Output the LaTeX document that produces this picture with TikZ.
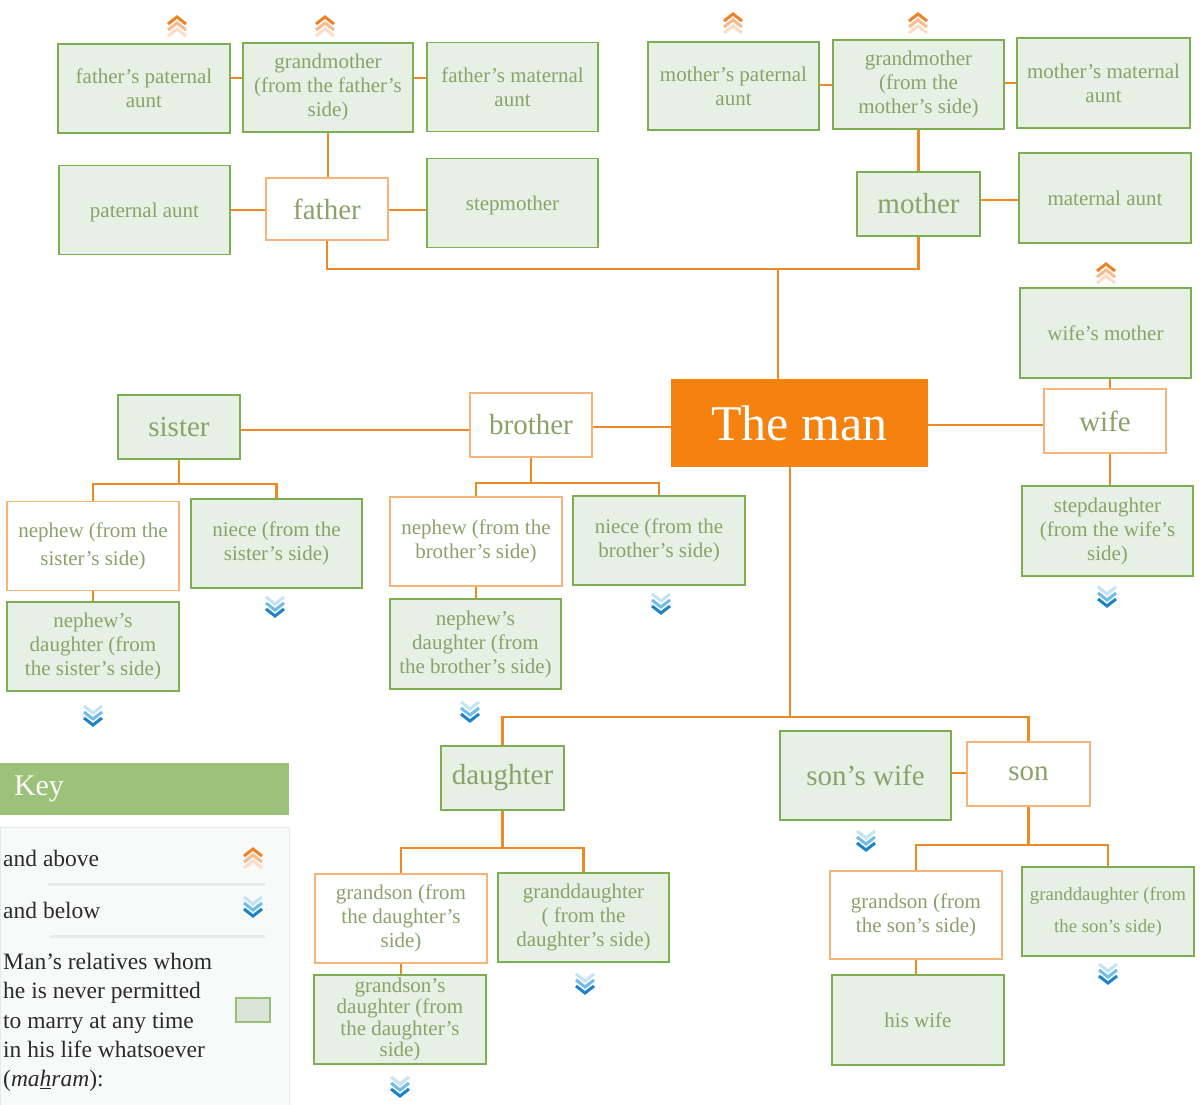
\documentclass[tikz,border=0pt]{standalone}
\usepackage{fontspec}
\setmainfont{Liberation Serif}
\usetikzlibrary{calc}
\definecolor{gfill}{HTML}{E7F0E4}
\definecolor{gline}{HTML}{7DAF52}
\definecolor{gtext}{HTML}{8AA26A}
\definecolor{oline}{HTML}{F5B478}
\definecolor{conn}{HTML}{EE8A26}
\definecolor{manfill}{HTML}{F5820F}
\definecolor{chOa}{HTML}{EE8226}
\definecolor{chOb}{HTML}{F6BC90}
\definecolor{chOc}{HTML}{FBDDC6}
\definecolor{chBa}{HTML}{1C84C6}
\definecolor{chBb}{HTML}{72BDE8}
\definecolor{chBc}{HTML}{C4E4F6}
\definecolor{keygreen}{HTML}{9CC27A}
\definecolor{panelfill}{HTML}{F8FAF9}
\definecolor{panelline}{HTML}{E6EBE9}
\definecolor{keytxt}{HTML}{2B2B2B}
\definecolor{ksqfill}{HTML}{DCE4DA}
\newcommand\myfsmall{\fontsize{21}{24}\selectfont}
\newcommand\myfbig{\fontsize{29}{34}\selectfont}
\tikzset{
  gbox/.style={draw=gline, fill=gfill, line width=1.5pt, text=gtext, align=center,
    inner sep=1pt, font=\myfsmall, minimum width=172, minimum height=89},
  obox/.style={gbox, draw=oline, fill=white},
  oneline/.style={text height=20pt, text depth=4.6pt},
  bigtxt/.style={font=\myfbig, minimum width=123, minimum height=64},
  cn/.style={draw=conn, line width=2.4pt},
  keytext/.style={text=keytxt, font=\fontsize{23.5}{29.3}\selectfont, inner sep=0pt},
  upch/.pic={
    \draw[line width=3pt, draw=chOc] (-9,17) -- (0,10) -- (9,17);
    \draw[line width=3pt, draw=chOb] (-9,11) -- (0,4) -- (9,11);
    \draw[line width=3pt, draw=chOa] (-9,5) -- (0,-2) -- (9,5);
  },
  dnch/.pic={
    \draw[line width=3pt, draw=chBc] (-9,-12) -- (0,-5) -- (9,-12);
    \draw[line width=3pt, draw=chBb] (-9,-6) -- (0,1) -- (9,-6);
    \draw[line width=3pt, draw=chBa] (-9,0) -- (0,7) -- (9,0);
  },
}
\begin{document}
\begin{tikzpicture}[x=1pt,y=-1pt]
\useasboundingbox[fill=white] (0,0) rectangle (1204,1105);

% ---------- father side ----------
\node[gbox] (fpa) at (144,88.5) {father’s paternal\\aunt};
\node[gbox, minimum width=170] (gmf) at (328,87.5) {grandmother\\(from the father’s\\side)};
\node[gbox, minimum width=171] (fma) at (512.5,87) {father’s maternal\\aunt};
\node[gbox, minimum width=171, oneline] (pa) at (144.5,210) {paternal aunt};
\node[obox, bigtxt, minimum width=122, minimum height=62] (father) at (327,209) {father};
\node[gbox, minimum width=171, oneline] (stepm) at (512.5,203) {stepmother};

% ---------- mother side ----------
\node[gbox, minimum width=171, minimum height=88] (mpa) at (733.5,86) {mother’s paternal\\aunt};
\node[gbox, minimum width=171] (gmm) at (918.5,84.5) {grandmother\\(from the\\mother’s side)};
\node[gbox, minimum width=173, minimum height=90] (mma) at (1103.5,83) {mother’s maternal\\aunt};
\node[gbox, bigtxt] (mother) at (918.5,204) {mother};
\node[gbox, minimum height=90, oneline] (mata) at (1105,198) {maternal aunt};

% ---------- wife side ----------
\node[gbox, minimum width=171, minimum height=90, oneline] (wifem) at (1105.5,333) {wife’s mother};
\node[obox, bigtxt, minimum width=122] (wife) at (1105,421) {wife};
\node[gbox, minimum width=171, minimum height=90] (stepd) at (1107.5,531) {stepdaughter\\(from the wife’s\\side)};

% ---------- the man ----------
\node[fill=manfill, text=white, font=\fontsize{50}{56}\selectfont,
      minimum width=257, minimum height=88, inner sep=0pt] (man) at (799.5,423) {The man};

% ---------- siblings ----------
\node[gbox, bigtxt, minimum width=122] (sister) at (179,427) {sister};
\node[obox, bigtxt, minimum width=122] (brother) at (531,425) {brother};
\node[obox, font=\fontsize{21}{28}\selectfont] (nephs) at (93,546) {nephew (from the\\sister’s side)};
\node[gbox, minimum width=171] (nieces) at (276.5,543.5) {niece (from the\\sister’s side)};
\node[gbox] (nds) at (93,646.5) {nephew’s\\daughter (from\\the sister’s side)};
\node[obox] (nephb) at (476,541.5) {nephew (from the\\brother’s side)};
\node[gbox] (nieceb) at (659,540.5) {niece (from the\\brother’s side)};
\node[gbox, minimum width=171, minimum height=90] (ndb) at (475.5,644) {nephew’s\\daughter (from\\the brother’s side)};

% ---------- children ----------
\node[gbox, bigtxt] (daughter) at (502.5,778) {daughter};
\node[gbox, bigtxt, minimum width=171, minimum height=89] (sonsw) at (865.5,775.5) {son’s wife};
\node[obox, bigtxt] (son) at (1028.5,774) {son};
\node[obox] (gsd) at (401,918.5) {grandson (from\\the daughter’s\\side)};
\node[gbox, minimum width=171] (gdd) at (583.5,917.5) {granddaughter\\( from the\\daughter’s side)};
\node[gbox, font=\fontsize{21}{21.3}\selectfont] (gsdd) at (400,1019.5) {grandson’s\\daughter (from\\the daughter’s\\side)};
\node[obox, minimum height=88] (gss) at (916,915) {grandson (from\\the son’s side)};
\node[gbox, font=\fontsize{18.8}{32}\selectfont] (gds) at (1108,911.5) {granddaughter (from\\the son’s side)};
\node[gbox, minimum height=90, oneline] (hisw) at (918,1020) {his wife};

% ---------- connectors ----------
\draw[cn] (fpa.east |- 0,78) -- (gmf.west |- 0,78);
\draw[cn] (gmf.east |- 0,78) -- (fma.west |- 0,78);
\draw[cn] (gmf.south) -- (gmf.south |- father.north);
\draw[cn] (pa.east |- 0,210) -- (father.west |- 0,210);
\draw[cn] (father.east |- 0,210) -- (stepm.west |- 0,210);
\draw[cn] (father.south) -- ++(0,28) -| (mother.south);
\coordinate (jt) at (778,268);
\draw[cn] (jt) -- (jt |- man.north);
\draw[cn] (mpa.east |- 0,85) -- (gmm.west |- 0,85);
\draw[cn] (gmm.east |- 0,83) -- (mma.west |- 0,83);
\draw[cn] (gmm.south) -- (gmm.south |- mother.north);
\draw[cn] (mother.east |- 0,200) -- (mata.west |- 0,200);

\draw[cn] (man.west |- 0,427) -- (brother.east |- 0,427);
\draw[cn] (brother.west |- 0,430) -- (sister.east |- 0,430);
\draw[cn] (man.east |- 0,425) -- (wife.west |- 0,425);
\draw[cn] (wifem.south -| 1110,0) -- (wife.north -| 1110,0);
\draw[cn] (wife.south -| 1110,0) -- (stepd.north -| 1110,0);

\coordinate (sj) at (179,484);
\draw[cn] (sister.south) -- (sj);
\draw[cn] (nephs.north) |- (sj) -| (nieces.north);
\draw[cn] (nephs.south) -- (nds.north);
\coordinate (bj) at (531,483);
\draw[cn] (brother.south) -- (bj);
\draw[cn] (nephb.north) |- (bj) -| (nieceb.north);
\draw[cn] (nephb.south) -- (nephb.south |- ndb.north);

\coordinate (mj) at (790,717);
\draw[cn] (mj |- man.south) -- (mj);
\draw[cn] (daughter.north) |- (mj) -| (son.north);
\draw[cn] (sonsw.east |- 0,773) -- (son.west |- 0,773);
\coordinate (dj) at (502.5,848);
\draw[cn] (daughter.south) -- (dj);
\draw[cn] (gsd.north) |- (dj) -| (gdd.north);
\draw[cn] (gsd.south) -- (gsd.south |- gsdd.north);
\coordinate (snj) at (1028.5,845);
\draw[cn] (son.south) -- (snj);
\draw[cn] (gss.north) |- (snj) -| (gds.north);
\draw[cn] (gss.south) -- (gss.south |- hisw.north);

% ---------- chevrons ----------
\pic at (177,19) {upch};
\pic at (325,19) {upch};
\pic at (733,16) {upch};
\pic at (918,16) {upch};
\pic at (1106,266) {upch};
\pic at (275,609) {dnch};
\pic at (93,718) {dnch};
\pic at (661,606) {dnch};
\pic at (470,714) {dnch};
\pic at (1107,599) {dnch};
\pic at (866,843) {dnch};
\pic at (585,986) {dnch};
\pic at (400,1089) {dnch};
\pic at (1108,976) {dnch};

% ---------- key ----------
\node[fill=keygreen, text=white, font=\fontsize{30}{34}\selectfont, minimum height=52,
      text width=261, inner xsep=14pt, inner ysep=0pt, align=left] (keyhead) at (144.5,789) {Key};
\node[fill=panelfill, draw=panelline, line width=1pt, minimum width=289, minimum height=278,
      anchor=north west, inner sep=0pt] (keypanel) at (0,827) {};
\draw[draw=panelline, line width=3pt] (48,884) -- (265,884);
\draw[draw=panelline, line width=3pt] (50,936) -- (265,936);
\node[keytext, anchor=west] (kab) at (3,858) {and above};
\node[keytext, anchor=west] (kbe) at (3,910) {and below};
\node[keytext, anchor=north west, align=left] (kmah) at (3,953)
  {Man’s relatives whom\\he is never permitted\\to marry at any time\\in his life whatsoever\\(\textit{ma\underline{h}ram}):};
\node[draw=gline!80, fill=ksqfill, line width=1.5pt, minimum width=34, minimum height=24, inner sep=0pt] (ksq) at (253,1010) {};
\pic at (253,851) {upch};
\pic at (253,909) {dnch};
\end{tikzpicture}
\end{document}
